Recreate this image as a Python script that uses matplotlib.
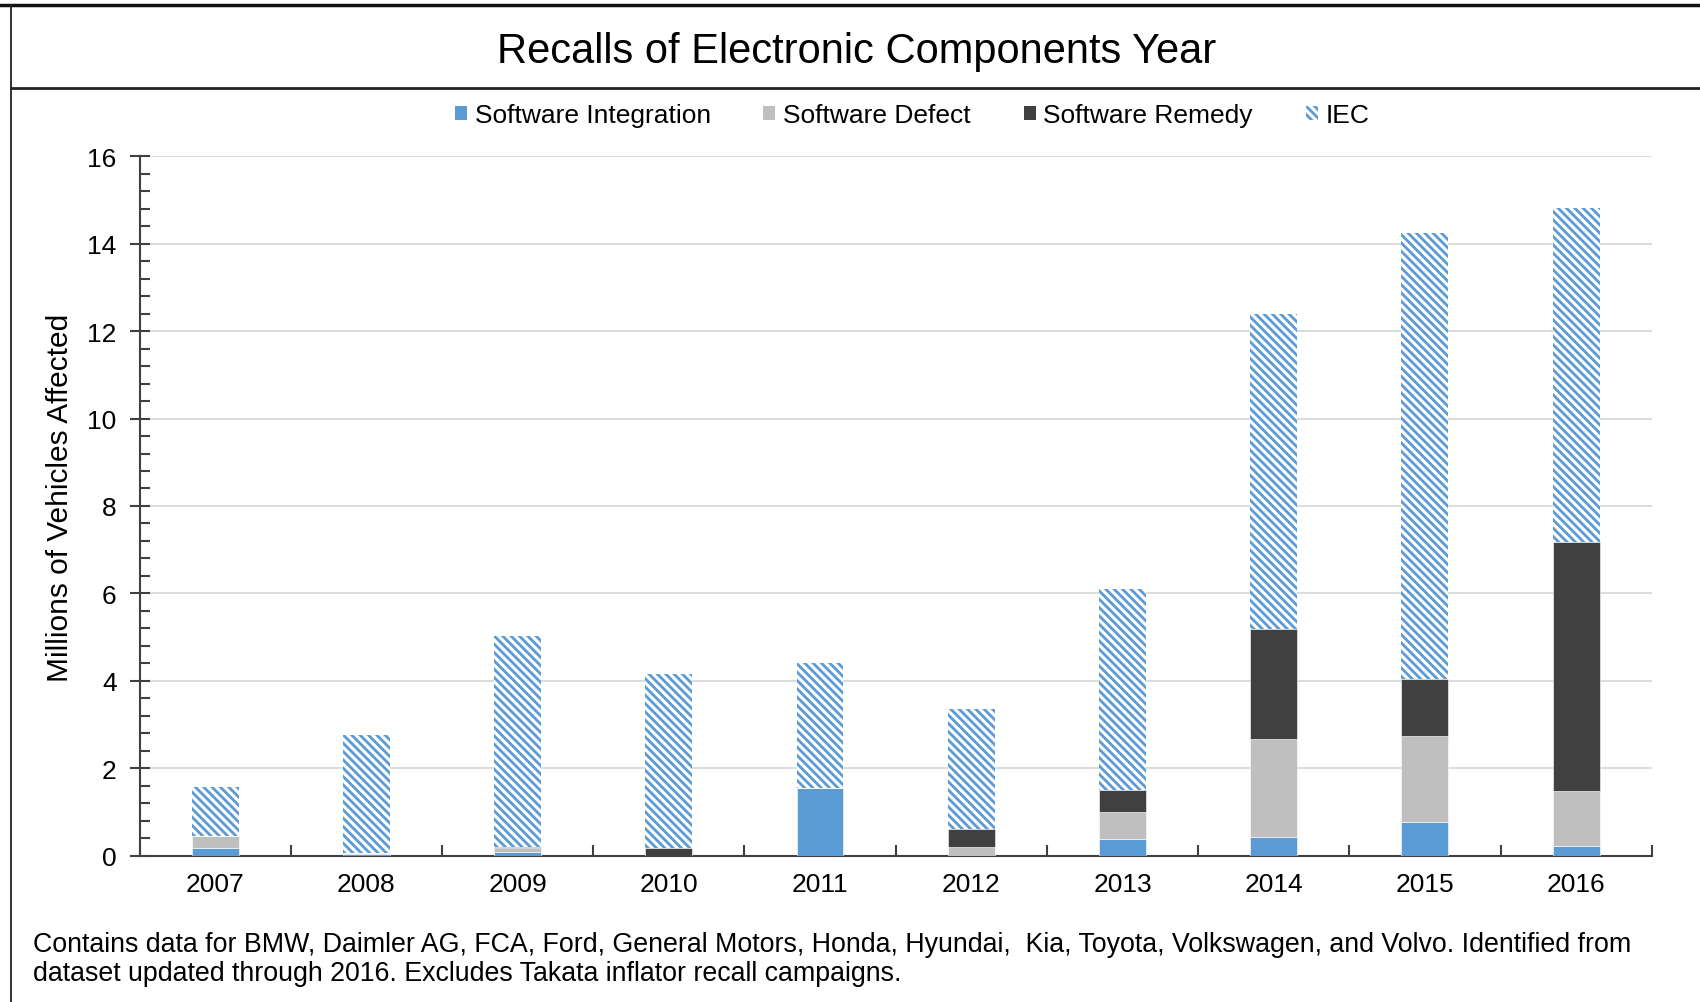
import matplotlib
matplotlib.use("Agg")
import matplotlib.pyplot as plt
import numpy as np
from matplotlib.ticker import AutoMinorLocator, MultipleLocator, FixedLocator
from matplotlib.lines import Line2D
from matplotlib.patches import Patch

plt.rcParams['font.family'] = ['Liberation Sans', 'DejaVu Sans']
plt.rcParams['hatch.linewidth'] = 2.0

years = ['2007', '2008', '2009', '2010', '2011', '2012', '2013', '2014', '2015', '2016']
software_integration = [0.17, 0.03, 0.08, 0.00, 1.54, 0.00, 0.37, 0.42, 0.78, 0.21]
software_defect      = [0.29, 0.02, 0.09, 0.00, 0.00, 0.19, 0.64, 2.26, 1.95, 1.26]
software_remedy      = [0.00, 0.00, 0.03, 0.17, 0.00, 0.41, 0.50, 2.51, 1.32, 5.71]
iec                  = [1.11, 2.71, 4.82, 3.98, 2.87, 2.75, 4.60, 7.21, 10.19, 7.63]
series_names = ['Software Integration', 'Software Defect', 'Software Remedy', 'IEC']

BLUE = '#5B9BD5'
GREY = '#BFBFBF'
DARK = '#404040'
HATCH = '\\\\\\\\'

fig = plt.figure(figsize=(17, 10.03), dpi=100)
ax = fig.add_axes([0.0821, 0.1459, 0.9716 - 0.0821, 0.6973])

x = np.arange(len(years))
w = 0.31
b1 = np.array(software_integration)
b2 = b1 + np.array(software_defect)
b3 = b2 + np.array(software_remedy)

ax.bar(x, software_integration, w, color=BLUE, edgecolor='white', linewidth=0.4, zorder=3)
ax.bar(x, software_defect, w, bottom=b1, color=GREY, edgecolor='white', linewidth=0.4, zorder=3)
ax.bar(x, software_remedy, w, bottom=b2, color=DARK, edgecolor='white', linewidth=0.4, zorder=3)
ax.bar(x, iec, w, bottom=b3, color='white', edgecolor=BLUE, hatch=HATCH, linewidth=0, zorder=3)

ax.set_xlim(-0.5, 9.5)
ax.set_ylim(0, 16)
ax.yaxis.set_major_locator(MultipleLocator(2))
ax.yaxis.set_minor_locator(AutoMinorLocator(5))
ax.yaxis.grid(True, which='major', color='#D9D9D9', linewidth=1.3, zorder=0)
ax.set_axisbelow(True)

ax.set_xticks(x)
ax.set_xticklabels(years)
ax.xaxis.set_minor_locator(FixedLocator(np.arange(-0.5, 10, 1.0)))
ax.tick_params(axis='x', which='major', length=0, labelsize=19, pad=12)
ax.tick_params(axis='x', which='minor', direction='in', length=8, width=1.5, color=DARK)
ax.tick_params(axis='y', which='major', direction='inout', length=15, width=1.5, color=DARK,
               labelsize=19, pad=9)
ax.tick_params(axis='y', which='minor', direction='in', length=7, width=1.5, color=DARK)

for s in ['top', 'right']:
    ax.spines[s].set_visible(False)
for s in ['left', 'bottom']:
    ax.spines[s].set_color(DARK)
    ax.spines[s].set_linewidth(1.5)

fig.text(0.0353, 0.504, 'Millions of Vehicles Affected', rotation=90,
         ha='center', va='center', fontsize=21.5)

fig.text(0.504, 0.948, 'Recalls of Electronic Components Year',
         ha='center', va='center', fontsize=30)

handles = [Patch(facecolor=BLUE, edgecolor='none'),
           Patch(facecolor=GREY, edgecolor='none'),
           Patch(facecolor=DARK, edgecolor='none'),
           Patch(facecolor='white', edgecolor=BLUE, hatch=HATCH, linewidth=0)]
fig.legend(handles, series_names, loc='center', bbox_to_anchor=(0.5365, 0.884),
           ncol=4, frameon=False, fontsize=19, handlelength=0.45, handleheight=0.45,
           handletextpad=0.3, columnspacing=2.0)

fig.text(0.0194, 0.0435,
         'Contains data for BMW, Daimler AG, FCA, Ford, General Motors, Honda, Hyundai,  Kia, Toyota, Volkswagen, and Volvo. Identified from\n'
         'dataset updated through 2016. Excludes Takata inflator recall campaigns.',
         ha='left', va='center', fontsize=19.3, linespacing=1.14)

# frame lines
fig.add_artist(Line2D([0, 1], [1 - 6 / 1003, 1 - 6 / 1003], color='#111111', linewidth=2.5,
                      transform=fig.transFigure))
fig.add_artist(Line2D([11 / 1700, 1], [1 - 89 / 1003, 1 - 89 / 1003], color='#222222', linewidth=2,
                      transform=fig.transFigure))
fig.add_artist(Line2D([11 / 1700, 11 / 1700], [0, 1 - 6 / 1003], color='#222222', linewidth=1.3,
                      transform=fig.transFigure))

fig.savefig('out.png', dpi=100)
